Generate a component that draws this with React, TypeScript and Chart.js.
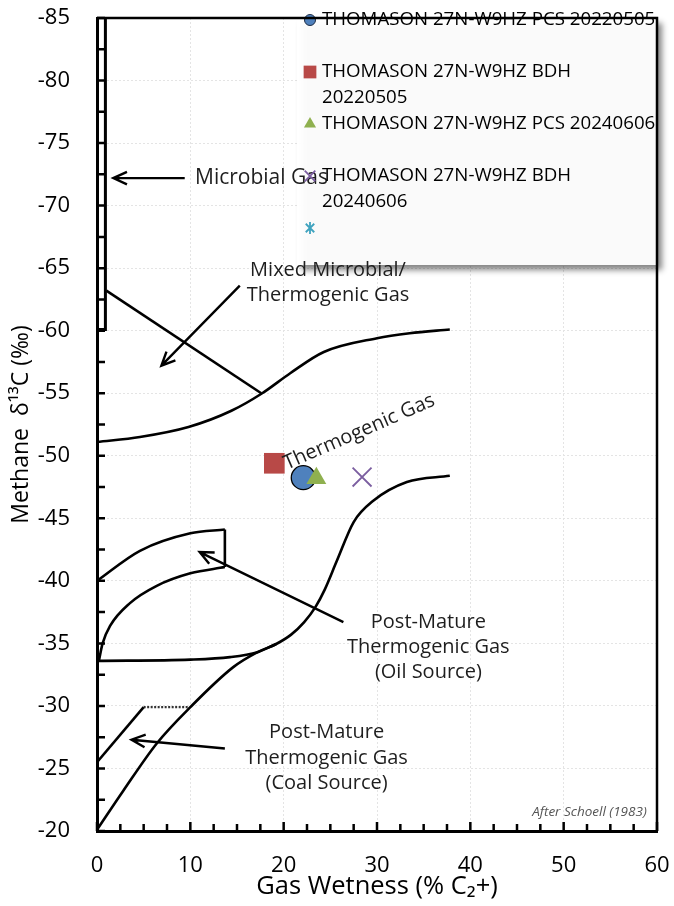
import React, { useEffect, useRef } from "react";
import { Chart, registerables } from "chart.js";

Chart.register(...registerables);

const FONT = "'Open Sans', 'DejaVu Sans', sans-serif";

// ---------- Sample series ----------
const seriesLabels = [
  "THOMASON 27N-W9HZ PCS 20220505",
  "THOMASON 27N-W9HZ BDH 20220505",
  "THOMASON 27N-W9HZ PCS 20240606",
  "THOMASON 27N-W9HZ BDH 20240606",
  "",
];
const legendLines = [
  ["THOMASON 27N-W9HZ PCS 20220505"],
  ["THOMASON 27N-W9HZ BDH", "20220505"],
  ["THOMASON 27N-W9HZ PCS 20240606"],
  ["THOMASON 27N-W9HZ BDH", "20240606"],
  [],
];
const pcs20220505 = [{ x: 22.1, y: -48.25 }];
const bdh20220505 = [{ x: 19.0, y: -49.4 }];
const pcs20240606 = [{ x: 23.5, y: -48.2 }];
const bdh20240606 = [{ x: 28.4, y: -48.3 }];
const extraSeries: { x: number; y: number }[] = [];

// ---------- Schoell (1983) field boundaries ----------
const microbialBox = [
  { x: 0.9, y: -85 },
  { x: 0.9, y: -60.1 },
  { x: 0, y: -60.1 },
];
const mixedLine = [
  { x: 1.0, y: -63.2 },
  { x: 17.6, y: -55.0 },
];
const upperThermogenic = [
  { x: 0, y: -51.1 },
  { x: 4.6, y: -51.5 },
  { x: 9.8, y: -52.3 },
  { x: 14.4, y: -53.6 },
  { x: 17.7, y: -55.0 },
  { x: 20.7, y: -56.6 },
  { x: 24.3, y: -58.3 },
  { x: 30, y: -59.4 },
  { x: 33.5, y: -59.8 },
  { x: 37.8, y: -60.1 },
];
const lowerThermogenic = [
  { x: 0, y: -20.1 },
  { x: 2.8, y: -23.2 },
  { x: 6.4, y: -27.0 },
  { x: 10, y: -29.9 },
  { x: 14.6, y: -33.1 },
  { x: 17.2, y: -34.3 },
  { x: 19.2, y: -34.95 },
  { x: 20.8, y: -35.7 },
  { x: 22.2, y: -36.7 },
  { x: 23.4, y: -37.9 },
  { x: 24.4, y: -39.3 },
  { x: 25.7, y: -41.6 },
  { x: 27.5, y: -44.7 },
  { x: 29.6, y: -46.4 },
  { x: 33.2, y: -47.9 },
  { x: 37.8, y: -48.4 },
];
const oilBase = [
  { x: 0, y: -33.6 },
  { x: 10, y: -33.7 },
  { x: 14.25, y: -33.9 },
  { x: 17.2, y: -34.3 },
  { x: 19.2, y: -34.95 },
];
const oilLower = [
  { x: 0.2, y: -33.6 },
  { x: 0.6, y: -35.0 },
  { x: 1.4, y: -36.4 },
  { x: 3.5, y: -38.2 },
  { x: 6.4, y: -39.6 },
  { x: 10, y: -40.6 },
  { x: 13.7, y: -41.1 },
];
const oilUpper = [
  { x: 0, y: -40.0 },
  { x: 4.6, y: -42.4 },
  { x: 10, y: -43.8 },
  { x: 13.7, y: -44.1 },
];
const oilEdge = [
  { x: 13.7, y: -44.1 },
  { x: 13.7, y: -41.1 },
];
const coalLine = [
  { x: 0, y: -25.5 },
  { x: 5.0, y: -29.9 },
];
const coalTop = [
  { x: 5.0, y: -29.9 },
  { x: 9.9, y: -29.9 },
];

// ---------- Arrows (tail -> tip) ----------
const arrows = [
  [{ x: 9.4, y: -72.2 }, { x: 1.75, y: -72.2 }],
  [{ x: 15.3, y: -63.6 }, { x: 6.9, y: -57.2 }],
  [{ x: 26.4, y: -36.7 }, { x: 11.0, y: -42.3 }],
  [{ x: 13.7, y: -26.6 }, { x: 3.7, y: -27.3 }],
];

// ---------- Annotations ----------
const annotations = [
  { text: "Microbial Gas", x: 10.5, y: -72.2, align: "left", rot: 0, size: 21 },
  { text: "Mixed Microbial/", x: 24.75, y: -64.8, align: "center", rot: 0, size: 20 },
  { text: "Thermogenic Gas", x: 24.75, y: -62.8, align: "center", rot: 0, size: 20 },
  { text: "Thermogenic Gas", x: 28.1, y: -51.9, align: "center", rot: -23.5, size: 20 },
  { text: "Post-Mature", x: 35.5, y: -36.7, align: "center", rot: 0, size: 20 },
  { text: "Thermogenic Gas", x: 35.5, y: -34.7, align: "center", rot: 0, size: 20 },
  { text: "(Oil Source)", x: 35.5, y: -32.7, align: "center", rot: 0, size: 20 },
  { text: "Post-Mature", x: 24.6, y: -27.9, align: "center", rot: 0, size: 20 },
  { text: "Thermogenic Gas", x: 24.6, y: -25.8, align: "center", rot: 0, size: 20 },
  { text: "(Coal Source)", x: 24.6, y: -23.8, align: "center", rot: 0, size: 20 },
];
const creditText = { text: "After Schoell (1983)", x: 58.9, y: -21.5 };

// ---------- Axes ----------
const xMin = 0, xMax = 60, xStep = 10;
const yMin = -85, yMax = -20, yStep = 5;
const minorStep = 2.5;

type Mk = { style: string; fill: string; stroke: string; lw: number; r: number };
const legendMarkers: Mk[] = [
  { style: "circle", fill: "#4f81bd", stroke: "#1d2c45", lw: 1, r: 5.5 },
  { style: "rect", fill: "#b84947", stroke: "#b84947", lw: 0, r: 9 },
  { style: "triangle", fill: "#8fb04f", stroke: "#8fb04f", lw: 0, r: 7 },
  { style: "crossRot", fill: "#7b5ea0", stroke: "#7b5ea0", lw: 1.8, r: 7.5 },
  { style: "star", fill: "#3fa3bf", stroke: "#3fa3bf", lw: 1.8, r: 6 },
];

function drawMarker(ctx: CanvasRenderingContext2D, m: Mk, x: number, y: number) {
  ctx.save();
  ctx.fillStyle = m.fill;
  ctx.strokeStyle = m.stroke;
  ctx.lineWidth = m.lw;
  const r = m.r;
  ctx.beginPath();
  if (m.style === "circle") {
    ctx.arc(x, y, r, 0, Math.PI * 2);
    ctx.fill();
    if (m.lw) ctx.stroke();
  } else if (m.style === "rect") {
    const s = r * Math.SQRT1_2;
    ctx.fillRect(x - s, y - s, 2 * s, 2 * s);
  } else if (m.style === "triangle") {
    for (let k = 0; k < 3; k++) {
      const a = (k * 2 * Math.PI) / 3;
      const px = x + Math.sin(a) * r;
      const py = y - Math.cos(a) * r;
      if (k === 0) ctx.moveTo(px, py);
      else ctx.lineTo(px, py);
    }
    ctx.closePath();
    ctx.fill();
  } else if (m.style === "crossRot" || m.style === "star") {
    const d = r * Math.SQRT1_2;
    ctx.moveTo(x - d, y - d);
    ctx.lineTo(x + d, y + d);
    ctx.moveTo(x - d, y + d);
    ctx.lineTo(x + d, y - d);
    if (m.style === "star") {
      ctx.moveTo(x, y - r);
      ctx.lineTo(x, y + r);
    }
    ctx.stroke();
  }
  ctx.restore();
}

const boundary = (data: { x: number; y: number }[], curved: boolean, extra: any = {}) => ({
  label: "",
  data,
  showLine: true,
  borderColor: "#000",
  borderWidth: 2.6,
  pointRadius: 0,
  pointHoverRadius: 0,
  fill: false,
  tension: 0,
  cubicInterpolationMode: curved ? "monotone" : "default",
  order: 10,
  ...extra,
});

const zeroPad = (s: any) => {
  s.paddingTop = 0;
  s.paddingBottom = 0;
  s.paddingLeft = 0;
  s.paddingRight = 0;
};

const schoellPlugin = {
  id: "schoell",
  beforeDatasetsDraw(chart: any) {
    const { ctx, chartArea: ca } = chart;
    const left = ca.left + 200;
    const top = ca.top;
    const w = ca.right - left;
    const h = 247;
    ctx.save();
    ctx.shadowColor = "rgba(0,0,0,0.5)";
    ctx.shadowBlur = 6;
    ctx.shadowOffsetX = 5;
    ctx.shadowOffsetY = 5;
    ctx.fillStyle = "rgba(255,255,255,0.96)";
    ctx.fillRect(left, top, w, h);
    ctx.restore();
  },
  afterDatasetsDraw(chart: any) {
    const { ctx, chartArea: ca, scales } = chart;
    const xs = scales.x, ys = scales.y;
    // arrows
    ctx.save();
    ctx.strokeStyle = "#000";
    ctx.lineWidth = 2.4;
    arrows.forEach(([a, b]) => {
      const x1 = xs.getPixelForValue(a.x), y1 = ys.getPixelForValue(a.y);
      const x2 = xs.getPixelForValue(b.x), y2 = ys.getPixelForValue(b.y);
      const ang = Math.atan2(y2 - y1, x2 - x1);
      ctx.beginPath();
      ctx.moveTo(x1, y1);
      ctx.lineTo(x2, y2);
      const L = 15, half = 0.43;
      ctx.moveTo(x2 - L * Math.cos(ang - half), y2 - L * Math.sin(ang - half));
      ctx.lineTo(x2, y2);
      ctx.lineTo(x2 - L * Math.cos(ang + half), y2 - L * Math.sin(ang + half));
      ctx.stroke();
    });
    ctx.restore();

    // annotations
    ctx.save();
    ctx.fillStyle = "#1e1e1e";
    ctx.textBaseline = "middle";
    annotations.forEach((t) => {
      const px = xs.getPixelForValue(t.x), py = ys.getPixelForValue(t.y);
      ctx.save();
      ctx.font = `${t.size}px ${FONT}`;
      ctx.translate(px, py);
      ctx.rotate((t.rot * Math.PI) / 180);
      ctx.textAlign = t.align as CanvasTextAlign;
      ctx.fillText(t.text, 0, 0);
      ctx.restore();
    });
    ctx.font = `italic 13.5px ${FONT}`;
    ctx.fillStyle = "#555";
    ctx.textAlign = "right";
    ctx.fillText(creditText.text, xs.getPixelForValue(creditText.x), ys.getPixelForValue(creditText.y));
    ctx.restore();

    // legend entries
    const left = ca.left + 200;
    ctx.save();
    ctx.font = `18.7px ${FONT}`;
    ctx.fillStyle = "#000";
    ctx.textAlign = "left";
    ctx.textBaseline = "middle";
    legendLines.forEach((lines, i) => {
      const cy = ca.top + 2 + i * 52;
      drawMarker(ctx, legendMarkers[i], left + 13, cy);
      lines.forEach((ln, j) => ctx.fillText(ln, left + 25, cy + j * 26));
    });
    ctx.restore();
  },
  afterDraw(chart: any) {
    const { ctx, chartArea: ca, scales } = chart;
    const xs = scales.x, ys = scales.y;
    ctx.save();
    ctx.strokeStyle = "#000";
    ctx.lineWidth = 2.5;
    ctx.beginPath();
    ctx.moveTo(ca.left, ca.top);
    ctx.lineTo(ca.right, ca.top);
    ctx.lineTo(ca.right, ca.bottom);
    ctx.stroke();
    ctx.beginPath();
    for (let v = xMin; v <= xMax + 1e-9; v += minorStep) {
      const px = xs.getPixelForValue(v);
      const len = Math.abs(v % xStep) < 1e-9 ? 9 : 7;
      ctx.moveTo(px, ca.bottom);
      ctx.lineTo(px, ca.bottom - len);
    }
    for (let v = yMin; v <= yMax + 1e-9; v += minorStep) {
      const py = ys.getPixelForValue(v);
      ctx.moveTo(ca.left, py);
      ctx.lineTo(ca.left + 8, py);
    }
    ctx.stroke();
    ctx.restore();
  },
};

export default function App() {
  const ref = useRef<HTMLCanvasElement | null>(null);
  useEffect(() => {
    if (!ref.current) return;
    Chart.defaults.font.family = FONT;
    Chart.defaults.color = "#000";
    const chart = new Chart(ref.current, {
      type: "scatter",
      data: {
        datasets: [
          {
            label: seriesLabels[2],
            data: pcs20240606,
            pointStyle: "triangle",
            pointRadius: 11.5,
            backgroundColor: "#8fb04f",
            borderColor: "#8fb04f",
            borderWidth: 0,
            order: 1,
          },
          {
            label: seriesLabels[0],
            data: pcs20220505,
            pointStyle: "circle",
            pointRadius: 12,
            backgroundColor: "#4f81bd",
            borderColor: "#000",
            borderWidth: 1.3,
            order: 2,
          },
          {
            label: seriesLabels[1],
            data: bdh20220505,
            pointStyle: "rect",
            pointRadius: 14.6,
            backgroundColor: "#b84947",
            borderColor: "#b84947",
            borderWidth: 0,
            order: 3,
          },
          {
            label: seriesLabels[3],
            data: bdh20240606,
            pointStyle: "crossRot",
            pointRadius: 13.4,
            backgroundColor: "#7b5ea0",
            borderColor: "#7b5ea0",
            borderWidth: 1.8,
            order: 4,
          },
          {
            label: seriesLabels[4],
            data: extraSeries,
            pointStyle: "star",
            pointRadius: 6,
            borderColor: "#3fa3bf",
            borderWidth: 1.8,
            order: 5,
          },
          boundary(microbialBox, false, { borderWidth: 3 }),
          boundary(mixedLine, false),
          boundary(upperThermogenic, true),
          boundary(lowerThermogenic, true),
          boundary(oilBase, true),
          boundary(oilLower, true),
          boundary(oilUpper, true),
          boundary(oilEdge, false),
          boundary(coalLine, false),
          boundary(coalTop, false, { borderDash: [2, 1.5], borderColor: "#333", borderWidth: 2.4 }),
        ] as any,
      },
      options: {
        animation: false,
        responsive: true,
        maintainAspectRatio: false,
        events: [],
        layout: { padding: { top: 18, right: 17, left: 0, bottom: 0 } },
        plugins: {
          legend: { display: false },
          tooltip: { enabled: false },
        },
        scales: {
          x: {
            type: "linear",
            min: xMin,
            max: xMax,
            afterFit: (s: any) => {
              s.height = 75;
              zeroPad(s);
            },
            ticks: { stepSize: xStep, font: { size: 22 }, color: "#000", padding: 22, autoSkip: false, maxRotation: 0 },
            grid: { color: "#e4e4e4", lineWidth: 1, drawTicks: false },
            border: { display: true, color: "#000", width: 3, dash: [2, 2] },
            title: {
              display: true,
              text: "Gas Wetness (% C\u2082+)",
              font: { size: 25.5 },
              color: "#000",
              padding: { top: 0, bottom: 4 },
            },
          },
          y: {
            type: "linear",
            min: yMin,
            max: yMax,
            reverse: true,
            afterFit: (s: any) => {
              s.width = 97;
              zeroPad(s);
            },
            ticks: { stepSize: yStep, font: { size: 22 }, color: "#000", padding: 27, autoSkip: false },
            grid: { color: "#e4e4e4", lineWidth: 1, drawTicks: false },
            border: { display: true, color: "#000", width: 3, dash: [2, 2] },
            title: {
              display: true,
              text: "Methane  \u03b4\u00b9\u00b3C (\u2030)",
              font: { size: 23 },
              color: "#000",
              padding: { top: 8, bottom: 0 },
            },
          },
        },
      } as any,
      plugins: [schoellPlugin],
    });
    return () => chart.destroy();
  }, []);
  return (
    <div style={{ position: "absolute", left: 0, top: 0, width: 674, height: 906, background: "#fff" }}>
      <canvas ref={ref} />
    </div>
  );
}
